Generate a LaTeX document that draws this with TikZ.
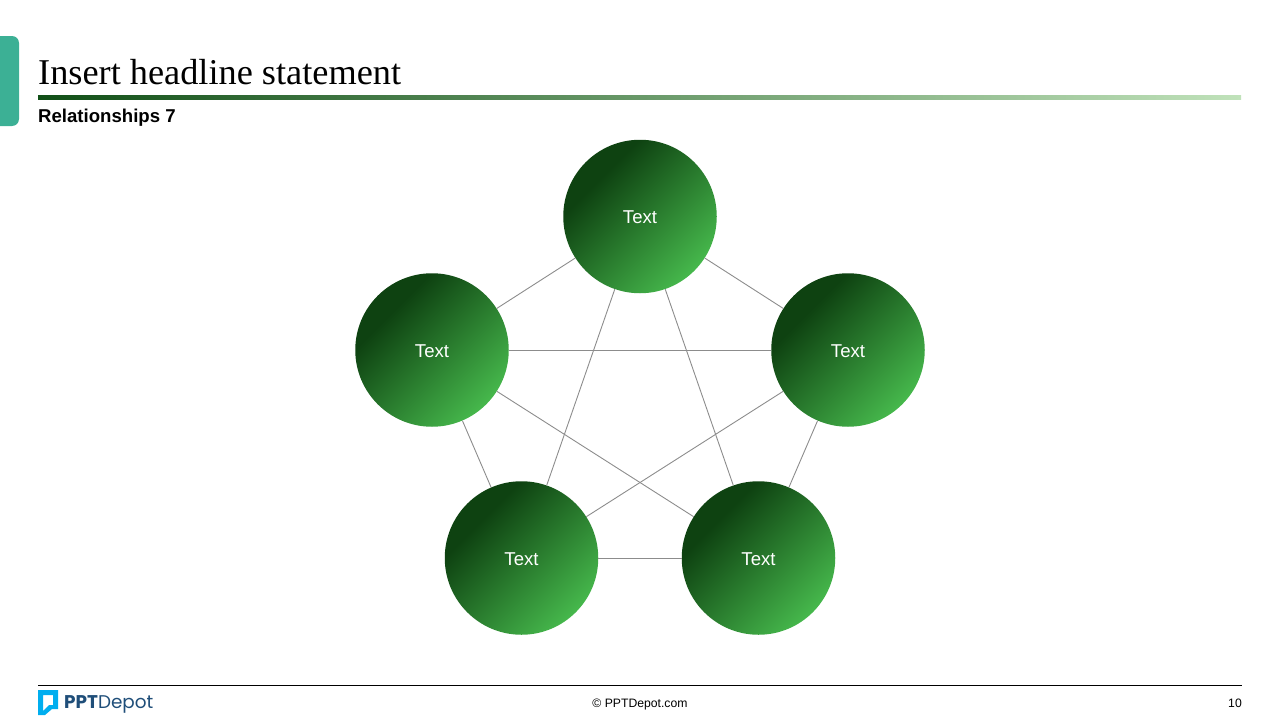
\documentclass[tikz,border=0pt]{standalone}
\usepackage{fontspec}
\setmainfont{Liberation Sans}
\newfontfamily\headfont{Liberation Serif}
\newfontfamily\logofont{Poppins}
\usetikzlibrary{shapes.geometric}
\definecolor{gdark}{HTML}{0E4211}
\definecolor{glight}{HTML}{46B84C}
\definecolor{ruleA}{HTML}{114F17}
\definecolor{ruleM}{HTML}{559E5A}
\definecolor{ruleB}{HTML}{C0E2BA}
\definecolor{tabc}{HTML}{3CB095}
\definecolor{linkc}{HTML}{8C8C8C}
\definecolor{logob}{HTML}{00AEEF}
\definecolor{logot}{HTML}{1F4E79}
\pgfdeclareverticalshading{ballgrad}{100bp}{color(0bp)=(glight); color(25bp)=(glight); color(68bp)=(gdark); color(100bp)=(gdark)}
\tikzset{
  ball/.style={circle,minimum size=153.5pt,inner sep=0pt,text height=14.5pt,text depth=0pt,shading=ballgrad,shading angle=45,text=white,font=\fontsize{18.6}{21}\selectfont},
  link/.style={draw=linkc,line width=0.9pt},
  foot/.style={font=\fontsize{12.2}{14}\selectfont,text=black,inner sep=0pt}
}
\begin{document}
\begin{tikzpicture}[x=1pt,y=-1pt]
\useasboundingbox (0,0) rectangle (1280,720);
% accent tab
\fill[tabc,rounded corners=7pt] (-12,36) rectangle (19,126);
% headline
\node[anchor=base west,inner sep=0pt,font=\headfont\fontsize{36.3}{38}\selectfont] (head) at (38,84) {Insert headline statement};
\shade[left color=ruleA,middle color=ruleM,right color=ruleB] (38,95) rectangle (1241,99);
\node[anchor=base west,inner sep=0pt,font=\bfseries\fontsize{18.6}{21}\selectfont] (sub) at (38,122) {Relationships 7};
% circles
\node[ball] (t) at (640,216.5) {Text};
\node[ball] (l) at (432,350) {Text};
\node[ball] (r) at (848,350) {Text};
\node[ball] (a) at (521.5,558) {Text};
\node[ball] (b) at (758.5,558) {Text};
% connectors
\draw[link] (t) -- (l);
\draw[link] (t) -- (r);
\draw[link] (t) -- (a);
\draw[link] (t) -- (b);
\draw[link] (l) -- (r);
\draw[link] (l) -- (a);
\draw[link] (l) -- (b);
\draw[link] (r) -- (a);
\draw[link] (r) -- (b);
\draw[link] (a) -- (b);
% footer
\draw[black,line width=1pt] (38,685.5) -- (1242,685.5);
\fill[logob,even odd rule] (38,690) -- (58,690) -- (58,709) -- (52,709) -- (45,715) -- (38,715) -- cycle
  (43,695) -- (53,695) -- (53,705) -- (49,705) -- (43,711) -- cycle;
\node[anchor=base west,inner sep=0pt,text=logot,font=\logofont\fontsize{18.4}{20}\selectfont] (logo) at (64,708) {\textbf{PPT}Depot};
\node[foot,anchor=base] (copy) at (640,707) {© PPTDepot.com};
\node[foot,anchor=base east] (num) at (1242,707) {10};
\end{tikzpicture}
\end{document}
